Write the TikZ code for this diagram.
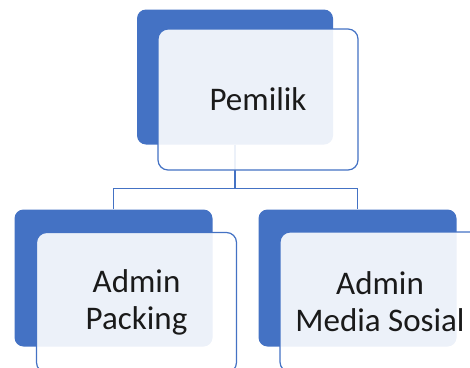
\documentclass[tikz,border=0pt]{standalone}
\usepackage{fontspec}
\setmainfont{Carlito}
\usetikzlibrary{calc}
\definecolor{accent}{HTML}{4472C4}
\definecolor{txt}{HTML}{1A1A1A}
\begin{document}
\begin{tikzpicture}[x=1pt,y=-1pt,
  backbox/.style={draw=none,fill=accent,rounded corners=9pt,minimum width=198pt,minimum height=137pt,inner sep=0pt},
  frontbox/.style={draw=accent,line width=1.2pt,fill=white,fill opacity=0.9,text opacity=1,rounded corners=10pt,minimum width=200pt,minimum height=140pt,inner sep=0pt,align=center,text=txt,font=\fontsize{33}{37}\selectfont},
  conn/.style={draw=accent,line width=1.2pt}]
\useasboundingbox (0,0) rectangle (470,367);
\clip (0,0) rectangle (470,367);
% back boxes
\node[backbox,minimum height=135pt,minimum width=196pt] (pb) at (235,77) {};
\node[backbox] (lb) at (113.5,278) {};
\node[backbox] (rb) at (357.5,278) {};
% connectors
\coordinate (j) at ($(pb.south)+(0,44)$);
\draw[conn] (pb.south) -- (j);
\draw[conn] (j) -| (lb.north);
\draw[conn] (j) -| (rb.north);
% front boxes
\node[frontbox,minimum height=141pt] (pf) at (258,99.5) {Pemilik};
\node[frontbox] (lf) at (136.5,302.5) {Admin\\Packing};
\node[frontbox] (rf) at (380,302) {Admin\\Media Sosial};
\end{tikzpicture}
\end{document}
